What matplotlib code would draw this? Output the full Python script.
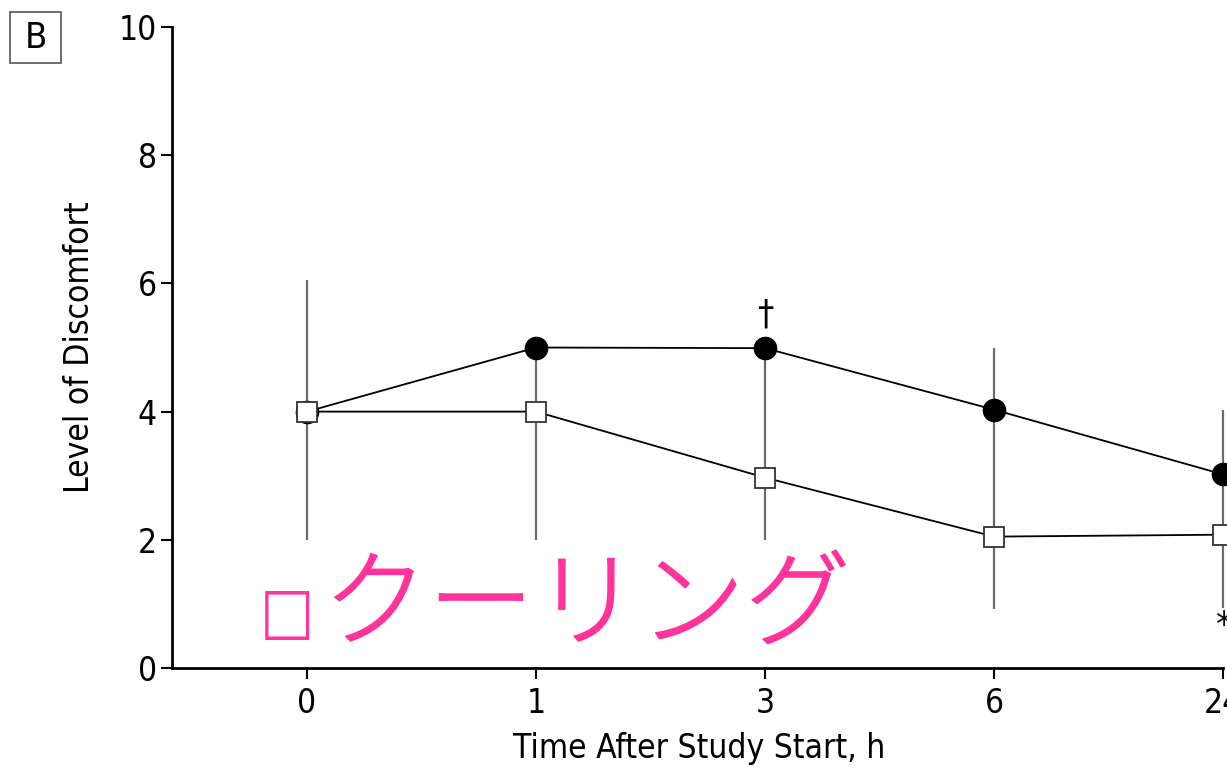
import matplotlib
matplotlib.use("Agg")
import matplotlib.pyplot as plt
import matplotlib.patheffects as pe
from matplotlib.patches import Rectangle

# time points (categorical) and group means
times = ['0', '1', '3', '6', '24']
cooling = [4.0, 4.0, 2.97, 2.05, 2.08]
control = [4.0, 5.0, 4.99, 4.03, 3.02]
# vertical range bars per time point
bar_low = [2.0, 2.0, 2.0, 0.92, 0.93]
bar_high = [6.05, 5.0, 5.0, 5.0, 4.03]

plt.rcParams['font.family'] = ['DejaVu Sans']
plt.rcParams['font.stretch'] = 'condensed'

fig = plt.figure(figsize=(12.27, 7.72), dpi=100)
ax = fig.add_axes([0.1402, 0.1347, 0.8598, 0.8303])

x = list(range(len(times)))
ax.vlines(x, bar_low, bar_high, color='#6b6b6b', lw=1.6, zorder=1)
ax.plot(x, control, color='black', lw=1.3, marker='o', ms=16,
        mfc='black', mec='black', zorder=3)
ax.plot(x, cooling, color='black', lw=1.3, marker='s', ms=14.5,
        mfc='white', mec='#333333', mew=1.3, zorder=4)

ax.set_xlim(-0.5895, 4.017)
ax.set_ylim(0, 10)
ax.set_xticks(x)
ax.set_xticklabels(times)
ax.set_yticks([0, 2, 4, 6, 8, 10])
for s in ['top', 'right']:
    ax.spines[s].set_visible(False)
ax.spines['bottom'].set_bounds(-0.5895, 4)
ax.spines['left'].set_linewidth(2)
ax.spines['bottom'].set_linewidth(2)
ax.tick_params(axis='both', labelsize=24, width=1.5, length=8, pad=6)
ax.tick_params(axis='y', pad=3)
ax.set_xlabel('Time After Study Start, h', fontsize=24, labelpad=8)
ax.set_ylabel('Level of Discomfort', fontsize=24, labelpad=16)

# significance marks
ax.text(2, 5.25, '†', ha='center', va='bottom', fontsize=26)
ax.text(4, 0.65, '*', ha='center', va='center', fontsize=26, clip_on=False)

# panel letter in a box
fig.patches.append(Rectangle((0.0085, 0.918), 0.0415, 0.066, transform=fig.transFigure,
                             fill=False, ec='#555555', lw=1.2))
fig.text(0.0293, 0.951, 'B', fontsize=26, ha='center', va='center')

# group label
pink = '#ff3399'
fig.text(0.2115, 0.205, '□', color=pink, fontsize=46, ha='left', va='center',
         family=['DejaVu Sans'])
fig.text(0.263, 0.213, 'クーリング', color=pink, fontsize=76, ha='left', va='center',
         family=['Noto Sans CJK JP', 'DejaVu Sans'], weight='light',
         path_effects=[pe.withStroke(linewidth=1.2, foreground=pink)])

fig.savefig('out.png', dpi=100)
